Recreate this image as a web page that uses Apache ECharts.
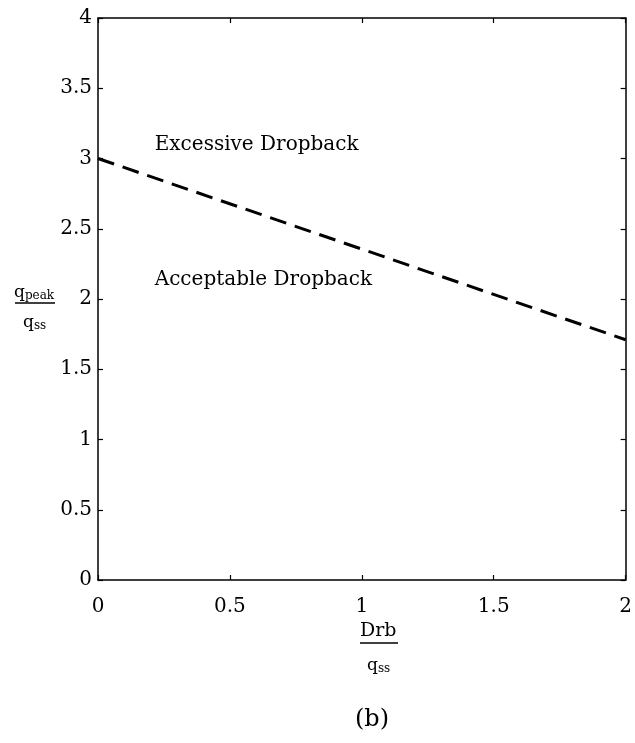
<!DOCTYPE html>
<html><head><meta charset="utf-8">
<script src="https://cdn.jsdelivr.net/npm/echarts@6/dist/echarts.min.js"></script>
<style>html,body{margin:0;padding:0;background:#fff}#c{width:635px;height:743px}</style>
</head><body><div id="c"></div>
<script>
const xLine = [0, 2];
const yLine = [3, 1.71];
const xTicks = ['0','0.5','1','1.5','2'];
const yTicks = ['0','0.5','1','1.5','2','2.5','3','3.5','4'];
const annotations = [
  {x: 0.215, y: 3.1, text: 'Excessive Dropback'},
  {x: 0.215, y: 2.14, text: 'Acceptable Dropback'}
];
const FONT = '"DejaVu Serif", "Liberation Serif", serif';
const chart = echarts.init(document.getElementById('c'));
const axisCommon = {
  axisLine: {show: true, onZero: false, lineStyle: {color: '#000', width: 1.5}},
  axisTick: {show: true, inside: true, length: 5, lineStyle: {color: '#000', width: 1.2}},
  splitLine: {show: false}
};
const subRich = {
  q: {fontFamily: FONT, fontSize: 17, color: '#000'},
  s: {fontFamily: FONT, fontSize: 12, color: '#000', padding: [7, 0, 0, 0]}
};
chart.setOption({
  animation: false,
  backgroundColor: '#fff',
  grid: {left: 98, top: 18, right: 7, bottom: 163},
  xAxis: [
    Object.assign({type: 'value', min: 0, max: 2, interval: 0.5, position: 'bottom',
      axisLabel: {color: '#000', fontFamily: FONT, fontSize: 20, margin: 17,
        formatter: v => xTicks[Math.round(v / 0.5)]}}, axisCommon),
    Object.assign({type: 'value', min: 0, max: 2, interval: 0.5, position: 'top',
      axisLabel: {show: false}}, axisCommon)
  ],
  yAxis: [
    Object.assign({type: 'value', min: 0, max: 4, interval: 0.5, position: 'left',
      axisLabel: {color: '#000', fontFamily: FONT, fontSize: 20, margin: 6,
        formatter: v => yTicks[Math.round(v / 0.5)]}}, axisCommon),
    Object.assign({type: 'value', min: 0, max: 4, interval: 0.5, position: 'right',
      axisLabel: {show: false}}, axisCommon)
  ],
  series: [
    {type: 'line', data: xLine.map((x, i) => [x, yLine[i]]), symbol: 'none',
      lineStyle: {color: '#000', width: 3, type: [17, 9]}},
    {type: 'scatter', symbolSize: 0, itemStyle: {opacity: 1},
      data: annotations.map(a => ({value: [a.x, a.y], name: a.text})),
      label: {show: true, position: 'right', distance: 0, formatter: p => p.name,
        color: '#000', opacity: 1, fontFamily: FONT, fontSize: 20}}
  ],
  graphic: [
    {type: 'text', left: 14, top: 284, style: {rich: subRich, text: '{q|q}{s|peak}'}},
    {type: 'line', shape: {x1: 15, y1: 303, x2: 55, y2: 303}, style: {stroke: '#000', lineWidth: 1.5}},
    {type: 'text', left: 23, top: 314, style: {rich: subRich, text: '{q|q}{s|ss}'}},
    {type: 'text', left: 360, top: 622, style: {text: 'Drb', font: '19px ' + FONT, fill: '#000'}},
    {type: 'line', shape: {x1: 360, y1: 643, x2: 398, y2: 643}, style: {stroke: '#000', lineWidth: 1.5}},
    {type: 'text', left: 367, top: 657, style: {rich: subRich, text: '{q|q}{s|ss}'}},
    {type: 'text', left: 355, top: 708, style: {text: '(b)', font: '24px ' + FONT, fill: '#000'}}
  ]
});
</script></body></html>
